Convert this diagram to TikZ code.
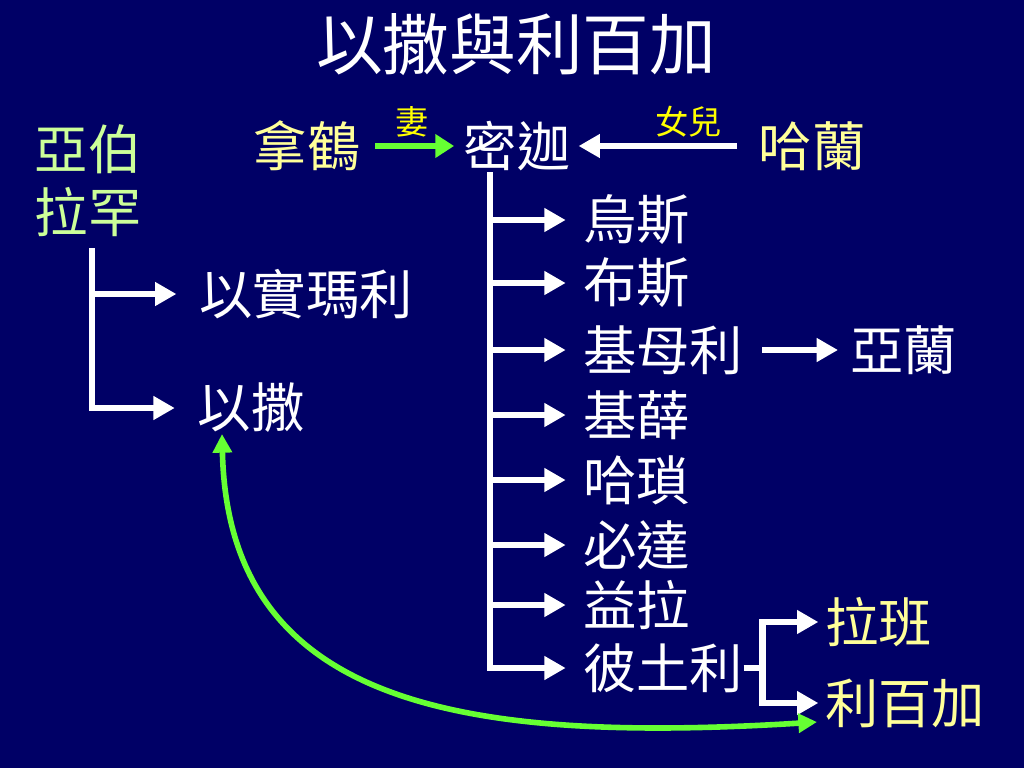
\documentclass[tikz,border=0pt]{standalone}
\usepackage{fontspec}
\newfontfamily\cjk{Noto Sans CJK TC}
\usetikzlibrary{arrows.meta}
\definecolor{navy}{RGB}{0,0,102}
\definecolor{abgreen}{RGB}{204,255,153}
\definecolor{paleyellow}{RGB}{255,255,153}
\definecolor{tagyellow}{RGB}{255,255,0}
\definecolor{arrowgreen}{RGB}{102,255,51}

\begin{document}
\begin{tikzpicture}[x=0.75pt,y=-0.75pt,
  person/.style={inner sep=0pt,text=white,font=\cjk\fontsize{40}{47}\selectfont},
  kin/.style={person,text=paleyellow},
  tag/.style={inner sep=0pt,text=tagyellow,font=\cjk\fontsize{25}{28}\selectfont},
  warr/.style={line width=5.2pt,white,-{Triangle[length=16pt,width=17pt]}},
  wline/.style={line width=5.2pt,white},
  garr/.style={line width=5.2pt,arrowgreen,-{Triangle[length=14pt,width=17pt]}},
  gcurve/.style={line width=4.2pt,arrowgreen,{Triangle[length=14pt,width=14pt]}-{Triangle[length=14pt,width=14pt]}}]
\fill[navy] (0,0) rectangle (1024,768);
\useasboundingbox (0,0) rectangle (1024,768);

\node[person,font=\cjk\fontsize{50}{56}\selectfont] (title) at (516,45) {以撒與利百加};

% Abraham and his sons
\node[person,text=abgreen,align=center] (abraham) at (88,181) {亞伯\\拉罕};
\node[person] (ishmael) at (306,294) {以實瑪利};
\node[person] (isaac) at (251,408) {以撒};
\coordinate (atop) at (92,248);
\draw[warr,shorten >=17pt] (atop |- ishmael.west) -- (ishmael.west);
\draw[warr,shorten >=17pt] (atop) |- (isaac.west);

% Nahor, Milcah, Haran
\node[kin] (nahor) at (307,146) {拿鶴};
\node[person] (milcah) at (517,146) {密迦};
\node[kin] (haran) at (812,146) {哈蘭};
\draw[garr,shorten <=11pt,shorten >=7pt] (nahor.east) -- (milcah.west)
  node[tag,midway,above=4pt] {妻};
\draw[warr,shorten <=16pt,shorten >=6pt] (haran.west) -- (milcah.east)
  node[tag,pos=0.37,above=4pt] {女兒};

% sons of Nahor
\node[person,anchor=west] (uz) at (583,220) {烏斯};
\node[person,anchor=west] (buz) at (583,283) {布斯};
\node[person,anchor=west] (kemuel) at (583,350) {基母利};
\node[person,anchor=west] (kesed) at (583,415) {基薛};
\node[person,anchor=west] (hazo) at (583,480) {哈瑣};
\node[person,anchor=west] (pildash) at (583,545) {必達};
\node[person,anchor=west] (jidlaph) at (583,605) {益拉};
\node[person,anchor=west] (bethuel) at (583,668) {彼土利};
\coordinate (ntop) at (490,172);
\draw[warr,shorten >=13pt] (ntop) |- (bethuel.west);
\foreach \c in {uz,buz,kemuel,kesed,hazo,pildash,jidlaph}
  \draw[warr,shorten >=13pt] (ntop |- \c.west) -- (\c.west);

\node[person,anchor=west] (aram) at (850,350) {亞蘭};
\draw[warr,shorten <=14pt,shorten >=9pt] (kemuel.east) -- (aram.west);

% children of Bethuel
\node[kin,anchor=west] (laban) at (825,622) {拉班};
\node[kin,anchor=west] (rebekah) at (825,703) {利百加};
\coordinate (bfork) at ([xshift=14pt]bethuel.east);
\draw[wline] (bethuel.east) -- (bfork);
\draw[warr,shorten >=5pt] (bfork) |- (laban.west);
\draw[warr,shorten >=5pt] (bfork) |- (rebekah.west);

% Isaac -- Rebekah
\coordinate (isaacfoot) at (222,434);
\coordinate (rebfoot) at (817,722);
\draw[gcurve] (rebfoot) .. controls (450,745) and (228,700) .. (isaacfoot);
\end{tikzpicture}
\end{document}
